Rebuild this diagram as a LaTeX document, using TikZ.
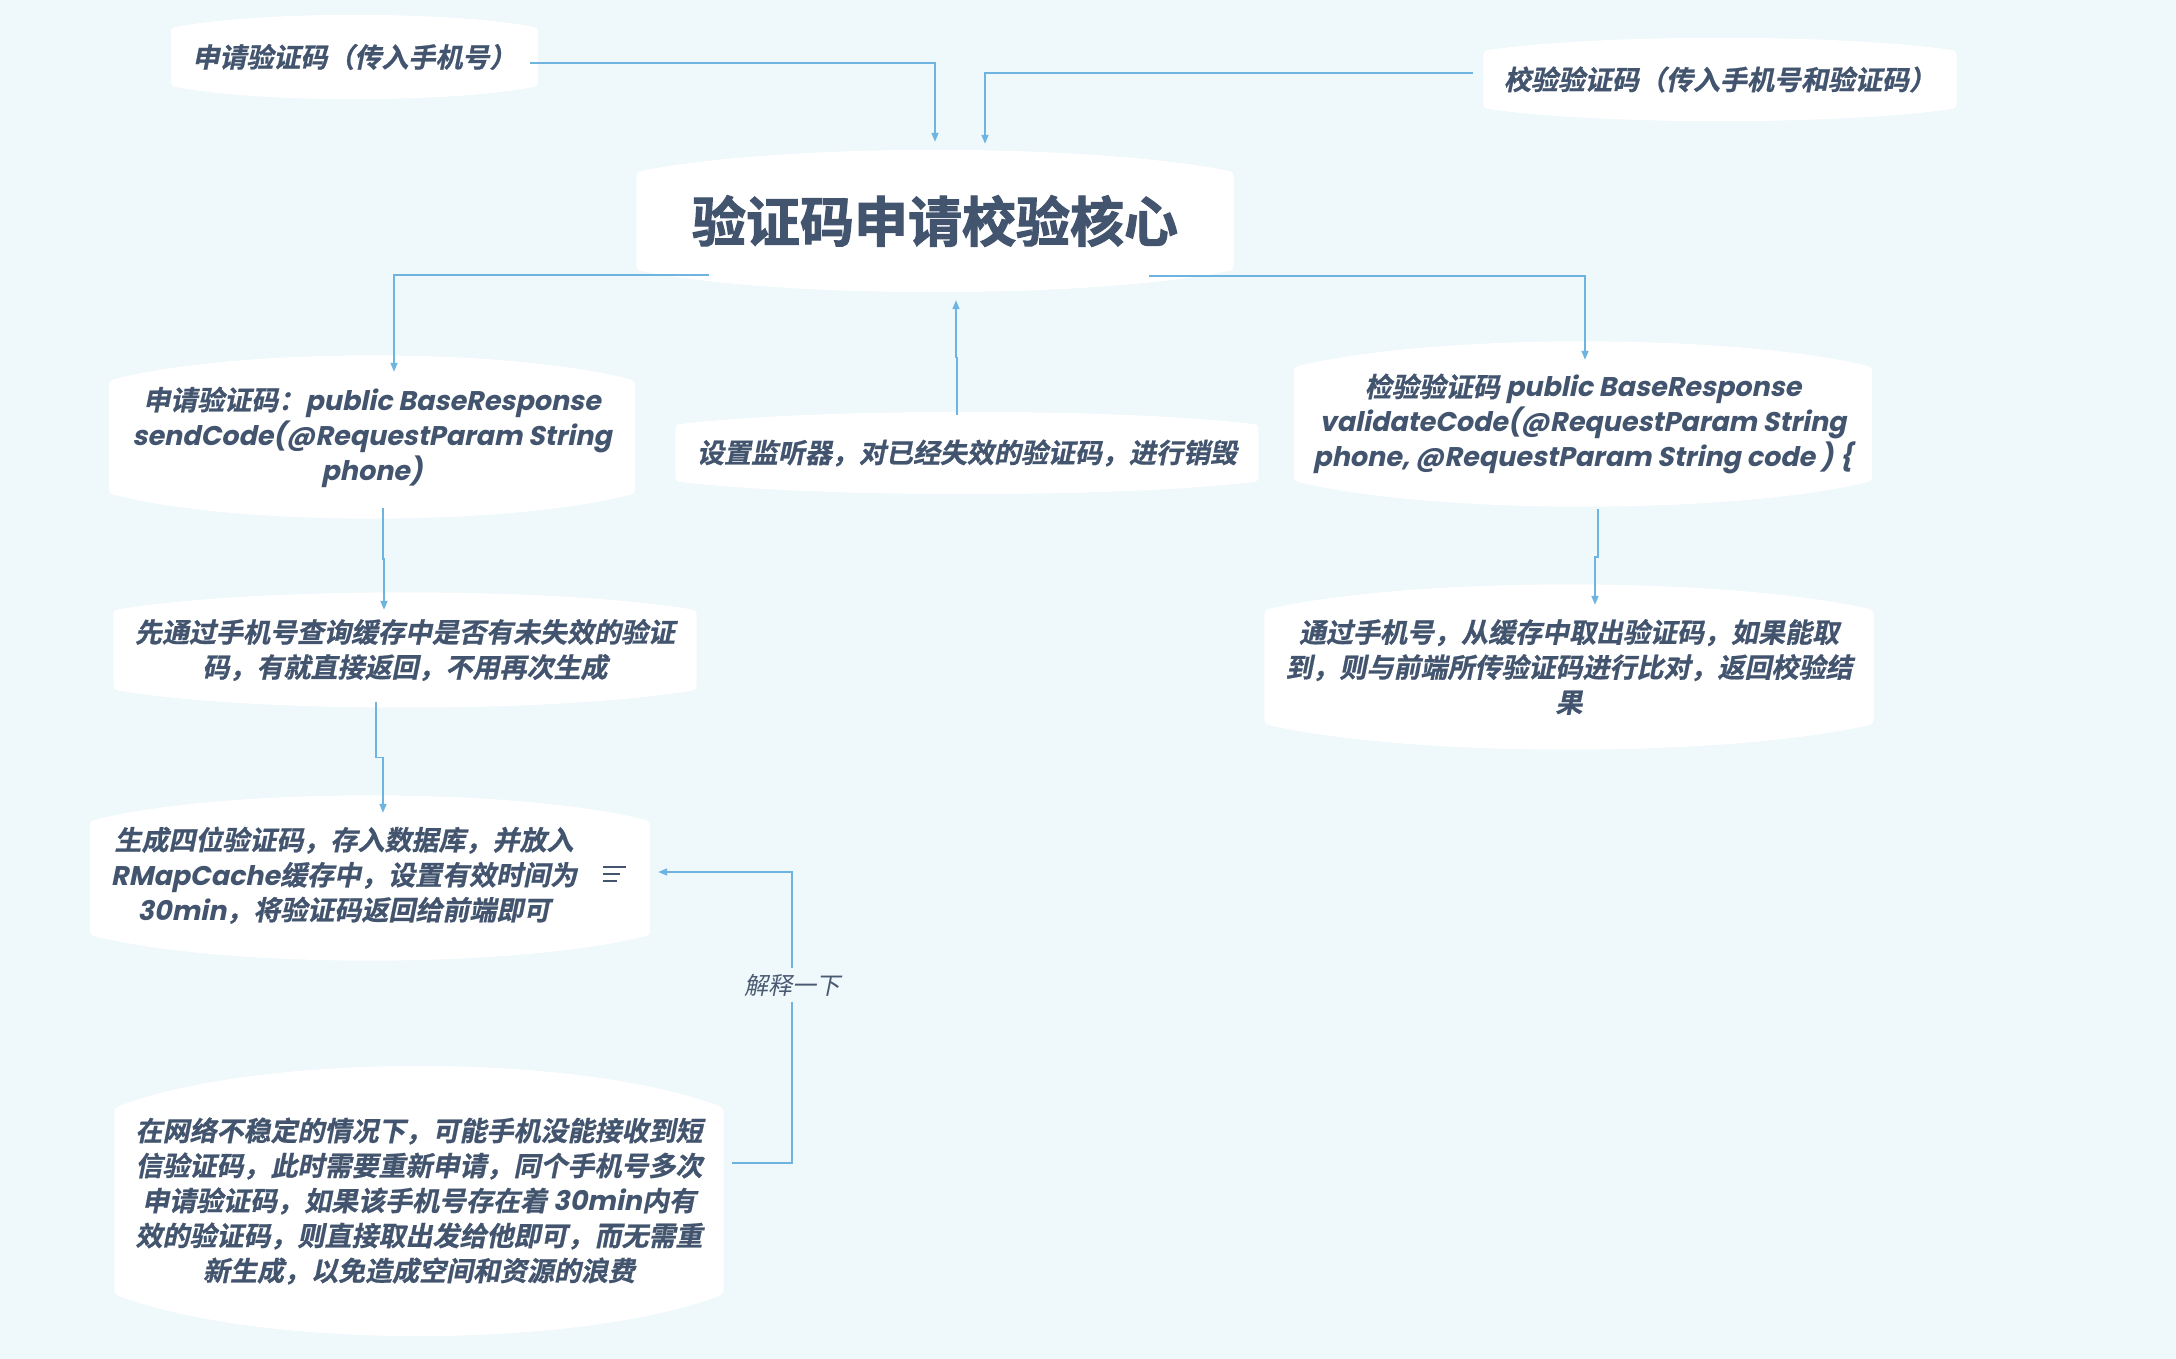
\documentclass[tikz,border=0pt]{standalone}
\usepackage{fontspec}
\usetikzlibrary{calc,arrows.meta}
\newfontfamily\cjkbi{Noto Sans CJK SC Bold}[FakeSlant=0.2,FakeBold=0.8]
\newfontfamily\cjkt{Noto Sans CJK SC Bold}[FakeBold=2]
\newfontfamily\cjkri{Noto Sans CJK SC}[FakeSlant=0.2]
\newfontfamily\popbi{Poppins Bold}[FakeSlant=0.2]
\newcommand\en[1]{{\popbi #1}}
\newcommand\bodyfont{\fontsize{27}{35}\selectfont\cjkbi}
\definecolor{bgc}{HTML}{EFF8FB}
\definecolor{lc}{HTML}{6EB4E1}
\definecolor{txt}{HTML}{42546E}
\definecolor{lbltxt}{HTML}{4A5A72}
\pgfdeclarelayer{bgl}\pgfdeclarelayer{shp}\pgfsetlayers{bgl,shp,main}
% white node shape with bulging top and bottom; #1 = vertical offset of the shape, #2 = node
\newcommand\blob[2][0pt]{%
 \fill[white, yshift=#1] let \p1=(#2.north west), \p2=(#2.south east),
   \n1={0.155*(\y1-\y2)}, \n2={\x2-\x1}, \n3={9}, \n4={9*1.333*\n1/(0.25*\n2)} in
   (\x1,{\y2+(\n1+\n3)*1pt}) -- (\x1,{\y1-(\n1+\n3)*1pt})
   .. controls (\x1,{\y1-\n1*1pt}) .. ({\x1+\n3*1pt},{\y1+(\n4-\n1)*1pt})
   .. controls ({\x1+0.25*\n2*1pt},{\y1+0.333*(\n1-\n4)*1pt}) and ({\x2-0.25*\n2*1pt},{\y1+0.333*(\n1-\n4)*1pt}) .. ({\x2-\n3*1pt},{\y1+(\n4-\n1)*1pt})
   .. controls (\x2,{\y1-\n1*1pt}) .. (\x2,{\y1-(\n1+\n3)*1pt})
   -- (\x2,{\y2+(\n1+\n3)*1pt})
   .. controls (\x2,{\y2+\n1*1pt}) .. ({\x2-\n3*1pt},{\y2+(\n1-\n4)*1pt})
   .. controls ({\x2-0.25*\n2*1pt},{\y2-0.333*(\n1-\n4)*1pt}) and ({\x1+0.25*\n2*1pt},{\y2-0.333*(\n1-\n4)*1pt}) .. ({\x1+\n3*1pt},{\y2+(\n1-\n4)*1pt})
   .. controls (\x1,{\y2+\n1*1pt}) .. (\x1,{\y2+(\n1+\n3)*1pt}) -- cycle;
}
\newcommand\vjog[2]{\draw[conn] (#1) |- ($(#1)!0.5!(#2)$) -| (#2);}
\begin{document}
\begin{tikzpicture}[x=1pt,y=-1pt,
 boxbase/.style={inner sep=0pt, text=txt, font=\bodyfont},
 box/.style={boxbase, align=center},
 conn/.style={draw=lc, line width=1.6pt, -{Triangle[length=9pt,width=7pt]}},
 lbl/.style={fill=bgc, text=lbltxt, font=\fontsize{24}{28}\selectfont\cjkri, inner xsep=2pt, inner ysep=6pt},
 icon/.style={draw=txt, line width=2pt}]
\useasboundingbox (0,0) rectangle (2176,1359);
\begin{pgfonlayer}{bgl}\fill[bgc] (0,0) rectangle (2176,1359);\end{pgfonlayer}

\node[box, minimum width=367pt, minimum height=84pt] (N1) at (354.5,57) {申请验证码（传入手机号）};
\node[box, minimum width=473pt, minimum height=83pt] (N2) at (1720,79.5) {校验验证码（传入手机号和验证码）};
\node[box, minimum width=597pt, minimum height=142pt, font=\fontsize{54}{60}\selectfont\cjkt] (C) at (935,221) {验证码申请校验核心};
\node[box, minimum width=526pt, minimum height=163pt] (A) at (372,437) {申请验证码：\en{public BaseResponse}\\\en{sendCode(@RequestParam String}\\\en{phone)}};
\node[box, minimum width=583pt, minimum height=82pt] (M) at (967,453) {设置监听器，对已经失效的验证码，进行销毁};
\node[box, minimum width=578pt, minimum height=165pt] (R) at (1583,424) {检验验证码 \en{public BaseResponse}\\\en{validateCode(@RequestParam String}\\\en{phone, @RequestParam String code ) \{}};
\node[box, minimum width=583pt, minimum height=115pt] (B) at (405,650) {先通过手机号查询缓存中是否有未失效的验证\\码，有就直接返回，不用再次生成};
\node[boxbase, minimum width=560pt, minimum height=165pt] (Cn) at (370,878) {\begin{tabular}{@{}c@{}}生成四位验证码，存入数据库，并放入\\\en{RMapCache}缓存中，设置有效时间为\\\en{30min}，将验证码返回给前端即可\end{tabular}\hspace*{52pt}};
\node[box, minimum width=609pt, minimum height=270pt] (D) at (419,1201) {在网络不稳定的情况下，可能手机没能接收到短\\信验证码，此时需要重新申请，同个手机号多次\\申请验证码，如果该手机号存在着 \en{30min}内有\\效的验证码，则直接取出发给他即可，而无需重\\新生成，以免造成空间和资源的浪费};
\node[box, minimum width=609pt, minimum height=165pt] (E) at (1569,667) {通过手机号，从缓存中取出验证码，如果能取\\到，则与前端所传验证码进行比对，返回校验结\\果};

\begin{pgfonlayer}{shp}
\blob[1pt]{N1}
\blob[1pt]{N2}
\blob{C}
\blob[4pt]{A}
\blob[4pt]{M}
\blob[4pt]{R}
\blob{B}
\blob[3pt]{Cn}
\blob[3pt]{D}
\blob{E}
\end{pgfonlayer}

% note icon
\draw[icon] ([xshift=-47pt,yshift=11pt]Cn.east) -- ++(23,0);
\draw[icon] ([xshift=-47pt,yshift=4pt]Cn.east) -- ++(17,0);
\draw[icon] ([xshift=-47pt,yshift=-3pt]Cn.east) -- ++(14,0);

% connectors
\draw[conn] ([xshift=-8pt,yshift=-6pt]N1.east) -| ([yshift=8pt]C.north);
\draw[conn] ([xshift=-10pt,yshift=6.5pt]N2.west) -| ([xshift=50pt,yshift=6pt]C.north);
\draw[conn] ([xshift=-226pt,yshift=17pt]C.south) -| ([xshift=22pt,yshift=-16.5pt]A.north);
\draw[conn] ([xshift=214pt,yshift=16pt]C.south) -| ([xshift=2pt,yshift=-18.5pt]R.north);
\vjog{[xshift=-10pt,yshift=-3pt]M.north}{[xshift=21pt,yshift=-8pt]C.south}
\vjog{[xshift=11pt,yshift=10.5pt]A.south}{[xshift=-21pt,yshift=-17.5pt]B.north}
\vjog{[xshift=-29pt,yshift=5.5pt]B.south}{[xshift=13pt,yshift=-17.5pt]Cn.north}
\vjog{[xshift=15pt,yshift=-2.5pt]R.south}{[xshift=26pt,yshift=-20.5pt]E.north}
\draw[conn] ([xshift=8.5pt,yshift=38pt]D.east) -- ++(60,0) |- node[lbl, pos=0.306] (L) {解释一下} ([xshift=8pt,yshift=6pt]Cn.east);
\end{tikzpicture}
\end{document}
